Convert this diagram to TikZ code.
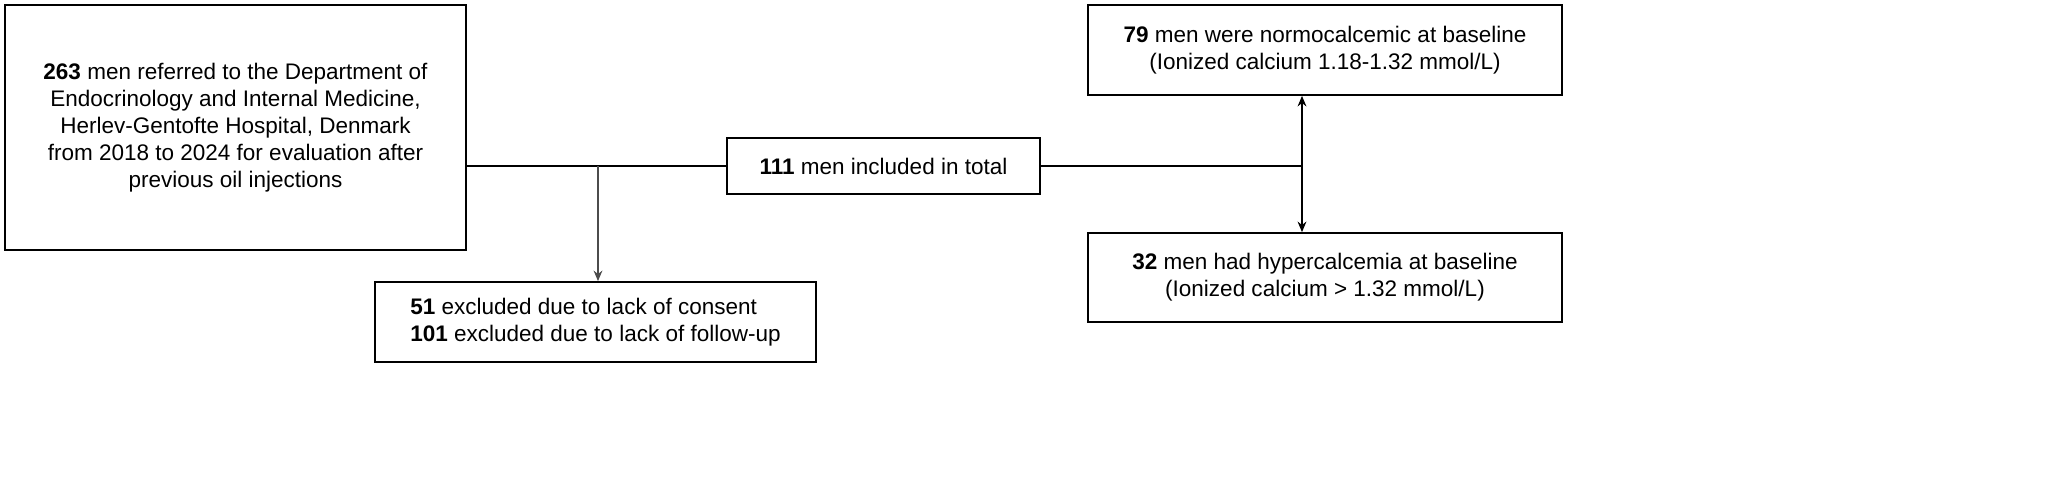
\documentclass[tikz,border=0pt]{standalone}
\usepackage{fontspec}
\setmainfont{Liberation Sans}
\usetikzlibrary{arrows.meta}
\begin{document}
\begin{tikzpicture}[x=0.01cm,y=-0.01cm,
  box/.style={draw, line width=0.5pt, align=center, inner sep=0pt, font=\fontsize{6.4}{7.7}\selectfont},
  arr/.style={-{Stealth[length=3pt,width=2.5pt]}, line width=0.4pt}]
\useasboundingbox (0,0) rectangle (2056,493);
\node[box, minimum width=461*0.01cm, minimum height=245*0.01cm] (ref) at (235.5,127.5)
  {\textbf{263} men referred to the Department of\\Endocrinology and Internal Medicine,\\Herlev-Gentofte Hospital, Denmark\\from 2018 to 2024 for evaluation after\\previous oil injections};
\node[box, minimum width=441*0.01cm, minimum height=80*0.01cm, align=left] (excl) at (595.5,322)
  {\textbf{51} excluded due to lack of consent\\\textbf{101} excluded due to lack of follow-up};
\node[box, minimum width=313*0.01cm, minimum height=56*0.01cm] (incl) at (883.5,166)
  {\textbf{111} men included in total};
\node[box, minimum width=474*0.01cm, minimum height=90*0.01cm] (normo) at (1325,50)
  {\textbf{79} men were normocalcemic at baseline\\(Ionized calcium 1.18-1.32 mmol/L)};
\node[box, minimum width=474*0.01cm, minimum height=89*0.01cm] (hyper) at (1325,277.5)
  {\textbf{32} men had hypercalcemia at baseline\\(Ionized calcium > 1.32 mmol/L)};
\coordinate (split) at (598,166);
\coordinate (join) at (1302,166);
\draw[line width=0.4pt] (ref.east |- incl) -- (incl);
\draw[arr, gray!60!black] (split) -- (split |- excl.north);
\draw[line width=0.4pt] (incl) -- (join);
\draw[arr, {Stealth[length=3pt,width=2.5pt]}-{Stealth[length=3pt,width=2.5pt]}] (normo.south -| join) -- (hyper.north -| join);
\end{tikzpicture}
\end{document}
